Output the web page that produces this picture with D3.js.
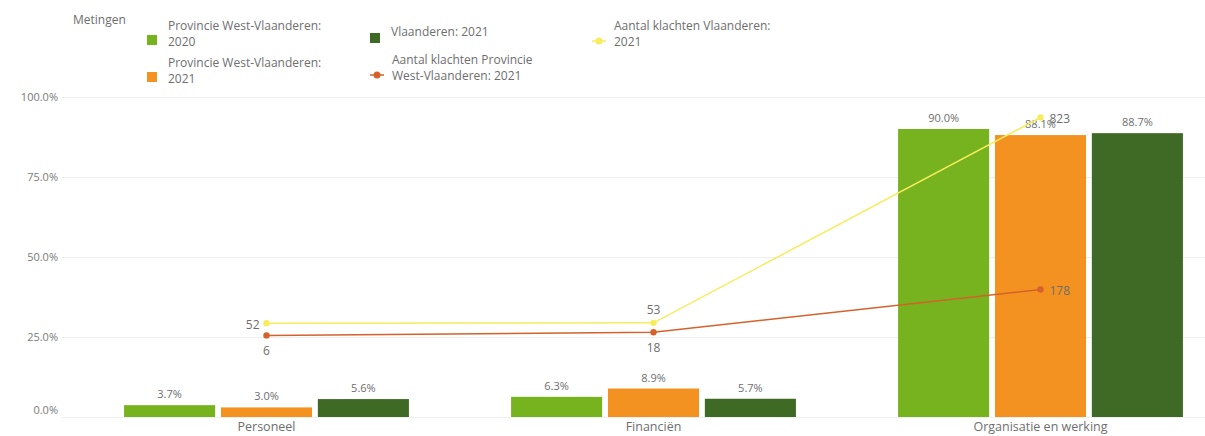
<!DOCTYPE html>
<html><head><meta charset="utf-8">
<script src="https://cdn.jsdelivr.net/npm/d3@7"></script>
<style>body{margin:0;background:#fff} text{font-family:"Open Sans",sans-serif}</style>
</head><body><svg id="c" width="1205" height="436"></svg>
<script>
const categories = ["Personeel", "Financiën", "Organisatie en werking"];
const barSeries = ["Provincie West-Vlaanderen: 2020", "Provincie West-Vlaanderen: 2021", "Vlaanderen: 2021"];
const barWV2020 = [3.7, 6.3, 90.0];
const barWV2021 = [3.0, 8.9, 88.1];
const barVL2021 = [5.6, 5.7, 88.7];
const lineSeries = ["Aantal klachten Provincie West-Vlaanderen: 2021", "Aantal klachten Vlaanderen: 2021"];
const complaintsWV = [6, 18, 178];
const complaintsVL = [52, 53, 823];
const yTicks = [0, 25, 50, 75, 100];
const y2Domain = [-300, 900];
const legendTitle = "Metingen";

const barColors = ["#77b21f", "#f39220", "#3f6a25"];
const lineColors = ["#d4622a", "#f7ec5c"];
const textColor = "#6e6e6e";

const svg = d3.select("#c");
const W = 1205, plotTop = 97, plotBottom = 417, plotLeft = 62;

const y = d3.scaleLinear().domain([0, 100]).range([plotBottom, plotTop]);
const y2 = d3.scaleLinear().domain(y2Domain).range([plotBottom, plotTop]);
const x = d3.scaleBand().domain(categories).range([73, 1234]).paddingInner(0.264).paddingOuter(0.132);
const xs = d3.scaleBand().domain(barSeries).range([0, x.bandwidth()]).paddingInner(0.06);

// grid + y axis
const yAxis = d3.axisLeft(y).tickValues(yTicks).tickSize(-(W - plotLeft)).tickFormat(d => d3.format(".1f")(d) + "%");
const ga = svg.append("g").attr("transform", `translate(${plotLeft},0)`).call(yAxis);
ga.select(".domain").remove();
ga.selectAll(".tick line").attr("stroke", "#efefef");
ga.selectAll(".tick text").attr("x", -4).attr("fill", "#7a7a7a").style("font-size", "11px").style("font-family", '"Open Sans",sans-serif')
  .attr("dy", d => d === 0 ? "-0.3em" : "0.32em");

// x axis labels
const xAxis = d3.axisBottom(x).tickSize(0).tickPadding(5);
const gx = svg.append("g").attr("transform", `translate(0,${plotBottom})`).call(xAxis);
gx.select(".domain").remove();
gx.selectAll(".tick text").attr("fill", textColor).style("font-size", "12.5px").style("font-family", '"Open Sans",sans-serif');

// bars
const barData = [barWV2020, barWV2021, barVL2021];
const rows = [];
categories.forEach((c, i) => barSeries.forEach((s, j) => rows.push({c, s, j, v: barData[j][i]})));
const gb = svg.append("g");
gb.selectAll("rect").data(rows).join("rect")
  .attr("x", d => x(d.c) + xs(d.s)).attr("width", xs.bandwidth())
  .attr("y", d => y(d.v)).attr("height", d => y(0) - y(d.v))
  .attr("fill", d => barColors[d.j]);
gb.selectAll("text").data(rows).join("text")
  .attr("x", d => x(d.c) + xs(d.s) + xs.bandwidth() / 2).attr("y", d => y(d.v) - 7)
  .attr("text-anchor", "middle").attr("fill", textColor).style("font-size", "11px")
  .text(d => d3.format(".1f")(d.v) + "%");

// lines
const lineData = [complaintsWV, complaintsVL];
const placements = [["bottom", "bottom", "right"], ["left", "top", "right"]];
const line = d3.line().x((d, i) => x(categories[i]) + x.bandwidth() / 2).y(d => y2(d));
[0, 1].forEach(k => {
  const g = svg.append("g");
  g.append("path").attr("d", line(lineData[k])).attr("fill", "none").attr("stroke", lineColors[k]).attr("stroke-width", 1.5);
  g.selectAll("circle").data(lineData[k]).join("circle")
    .attr("cx", (d, i) => x(categories[i]) + x.bandwidth() / 2).attr("cy", d => y2(d)).attr("r", 3.2)
    .attr("fill", lineColors[k]);
  g.selectAll("text").data(lineData[k]).join("text")
    .each(function (d, i) {
      const cx = x(categories[i]) + x.bandwidth() / 2, cy = y2(d), p = placements[k][i];
      const t = d3.select(this).attr("fill", textColor).style("font-size", "12px").text(d);
      if (p === "bottom") t.attr("x", cx).attr("y", cy + 20).attr("text-anchor", "middle");
      else if (p === "top") t.attr("x", cx).attr("y", cy - 9).attr("text-anchor", "middle");
      else if (p === "left") t.attr("x", cx - 7).attr("y", cy + 6).attr("text-anchor", "end");
      else t.attr("x", cx + 9).attr("y", cy + 5).attr("text-anchor", "start");
    });
});

// legend
const lg = svg.append("g").style("font-size", "12px");
lg.append("text").attr("x", 73).attr("y", 24).attr("fill", textColor).text(legendTitle);
const legendItems = [
  {type: "rect", color: barColors[0], lines: ["Provincie West-Vlaanderen:", "2020"], x: 147, y: 30},
  {type: "rect", color: barColors[2], lines: [barSeries[2]], x: 370, y: 36},
  {type: "line", color: lineColors[1], lines: ["Aantal klachten Vlaanderen:", "2021"], x: 592, y: 30},
  {type: "rect", color: barColors[1], lines: ["Provincie West-Vlaanderen:", "2021"], x: 147, y: 67},
  {type: "line", color: lineColors[0], lines: ["Aantal klachten Provincie", "West-Vlaanderen: 2021"], x: 370, y: 64},
];
legendItems.forEach(it => {
  const g = lg.append("g");
  const n = it.lines.length;
  const mid = it.y + (n - 1) * 8;
  if (it.type === "rect") {
    g.append("rect").attr("x", it.x).attr("y", mid - 3).attr("width", 10).attr("height", 10).attr("fill", it.color);
  } else {
    g.append("line").attr("x1", it.x).attr("x2", it.x + 14).attr("y1", mid + 3).attr("y2", mid + 3).attr("stroke", it.color).attr("stroke-width", 1.5);
    g.append("circle").attr("cx", it.x + 7).attr("cy", mid + 3).attr("r", 3.5).attr("fill", it.color);
  }
  const tx = it.type === "rect" ? it.x + 21 : it.x + 22;
  it.lines.forEach((l, i) => g.append("text").attr("x", tx).attr("y", it.y + i * 16).attr("fill", textColor).text(l));
});
</script></body></html>
